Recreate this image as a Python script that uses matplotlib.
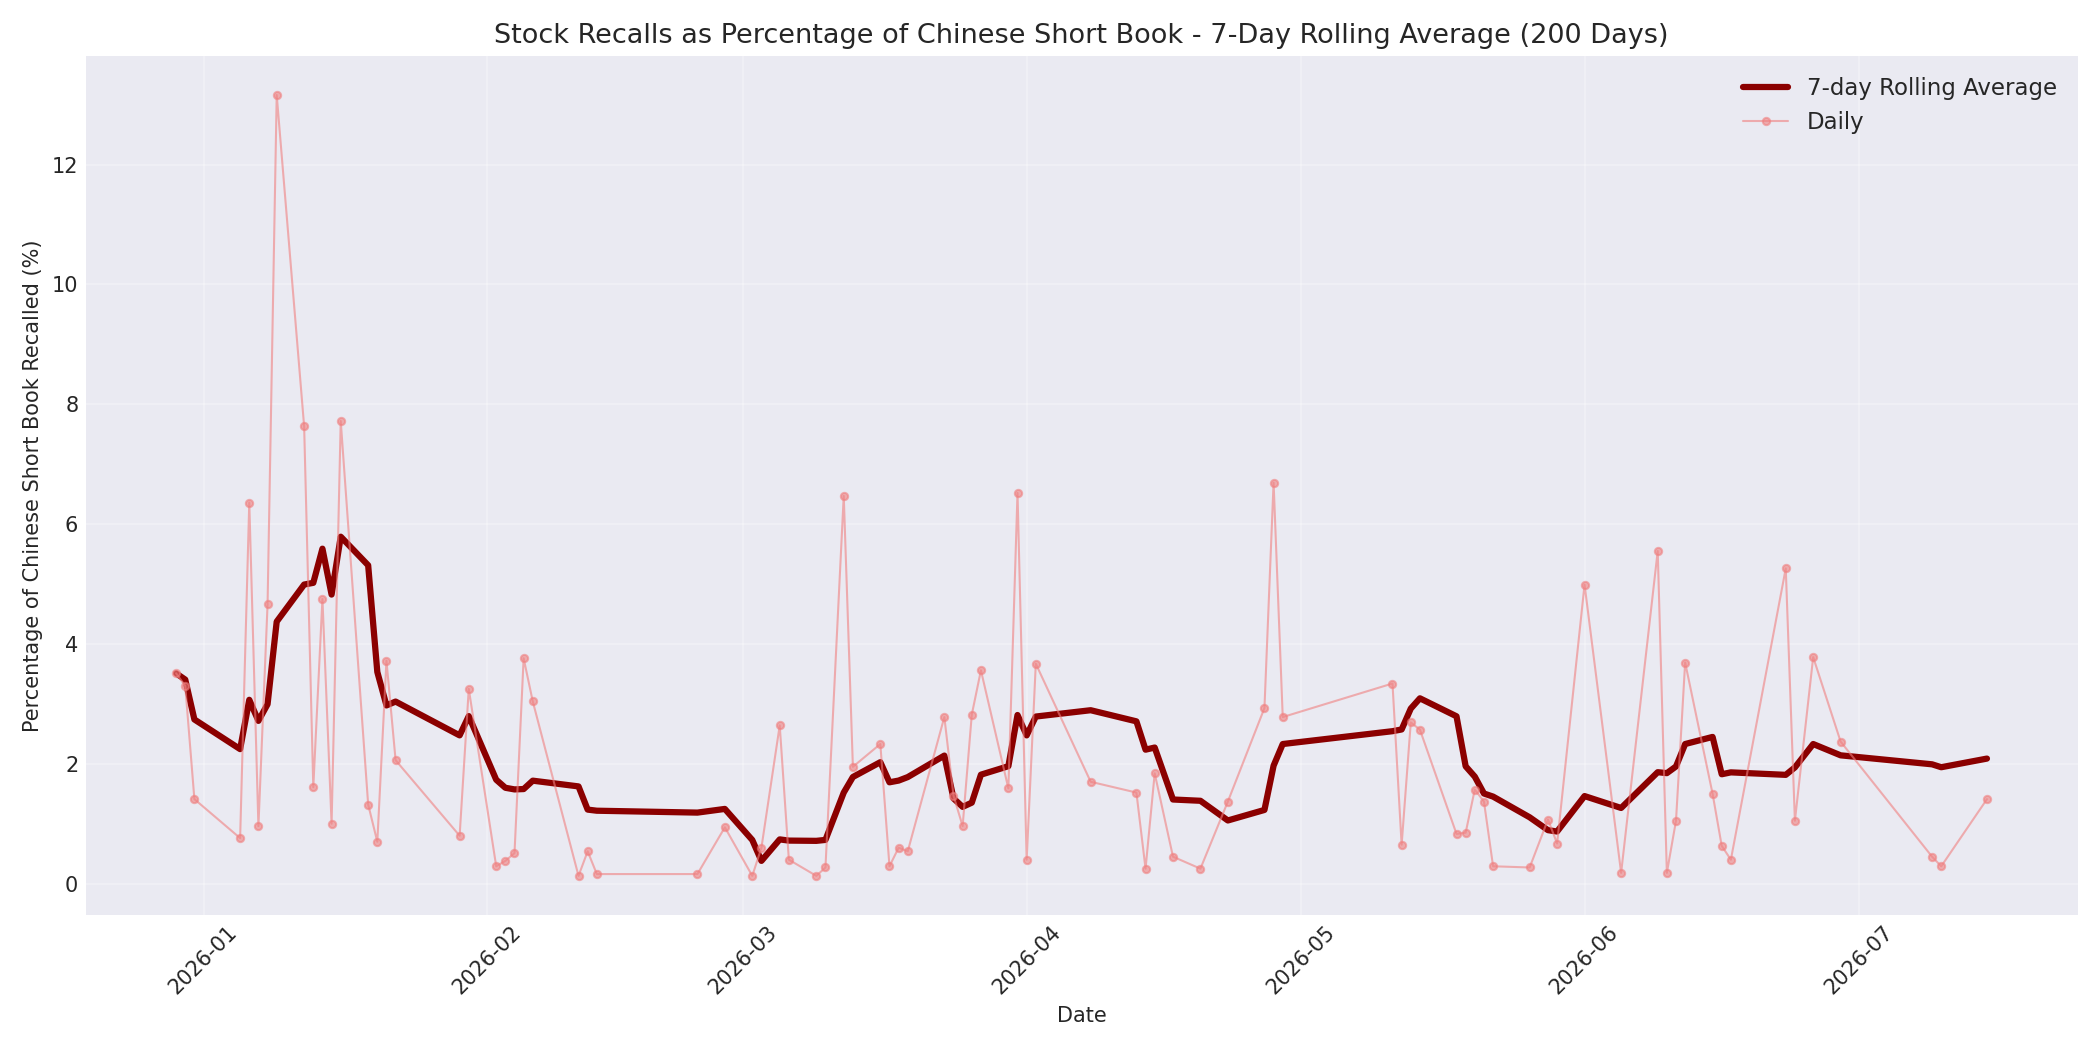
import numpy as np
import pandas as pd
import matplotlib.pyplot as plt
import matplotlib.dates as mdates

# daily recall %
dates = [
    "2025-12-29", "2025-12-30", "2025-12-31", "2026-01-05", "2026-01-06", "2026-01-07",
    "2026-01-08", "2026-01-09", "2026-01-12", "2026-01-13", "2026-01-14", "2026-01-15",
    "2026-01-16", "2026-01-19", "2026-01-20", "2026-01-21", "2026-01-22", "2026-01-29",
    "2026-01-30", "2026-02-02", "2026-02-03", "2026-02-04", "2026-02-05", "2026-02-06",
    "2026-02-11", "2026-02-12", "2026-02-13", "2026-02-24", "2026-02-27", "2026-03-02",
    "2026-03-03",
    "2026-03-05", "2026-03-06", "2026-03-09", "2026-03-10", "2026-03-12", "2026-03-13",
    "2026-03-16", "2026-03-17", "2026-03-18", "2026-03-19", "2026-03-23", "2026-03-24",
    "2026-03-25", "2026-03-26", "2026-03-27", "2026-03-30", "2026-03-31", "2026-04-01",
    "2026-04-02", "2026-04-08", "2026-04-13", "2026-04-14", "2026-04-15", "2026-04-17",
    "2026-04-20", "2026-04-23", "2026-04-27", "2026-04-28", "2026-04-29", "2026-05-11",
    "2026-05-12", "2026-05-13", "2026-05-14", "2026-05-18", "2026-05-19", "2026-05-20",
    "2026-05-21", "2026-05-22", "2026-05-26", "2026-05-28", "2026-05-29", "2026-06-01",
    "2026-06-05", "2026-06-09", "2026-06-10", "2026-06-11", "2026-06-12", "2026-06-15",
    "2026-06-16", "2026-06-17", "2026-06-23", "2026-06-24", "2026-06-26", "2026-06-29",
    "2026-07-09", "2026-07-10", "2026-07-15",
]
daily_pct = [
    3.51, 3.30, 1.41, 0.76, 6.36, 0.96,
    4.66, 13.16, 7.63, 1.61, 4.75, 1.00,
    7.72, 1.32, 0.70, 3.72, 2.06, 0.80,
    3.25, 0.29, 0.38, 0.51, 3.76, 3.04,
    0.13, 0.54, 0.16, 0.16, 0.94, 0.13,
    0.60,
    2.64, 0.40, 0.13, 0.27, 6.47, 1.95,
    2.33, 0.29, 0.60, 0.54, 2.78, 1.47,
    0.96, 2.82, 3.56, 1.59, 6.52, 0.40,
    3.67, 1.70, 1.52, 0.25, 1.84, 0.45,
    0.25, 1.37, 2.93, 6.69, 2.78, 3.34,
    0.65, 2.69, 2.57, 0.83, 0.85, 1.57,
    1.37, 0.29, 0.27, 1.07, 0.67, 4.99,
    0.18, 5.55, 0.18, 1.05, 3.69, 1.50,
    0.63, 0.40, 5.26, 1.05, 3.78, 2.37,
    0.45, 0.29, 1.41,
]

plt.style.use("seaborn-v0_8-darkgrid")
plt.rcParams["font.family"] = ["DejaVu Sans"]

s = pd.Series(daily_pct, index=pd.to_datetime(dates))
rolling = s.rolling(7, min_periods=1).mean()

fig, ax = plt.subplots(figsize=(14, 7))
ax.plot(rolling.index, rolling.values, color="darkred", linewidth=3, label="7-day Rolling Average")
ax.plot(s.index, s.values, color="lightcoral", alpha=0.6, linewidth=1, marker="o", markersize=3.5,
        label="Daily")
ax.set_title("Stock Recalls as Percentage of Chinese Short Book - 7-Day Rolling Average (200 Days)",
             fontsize=13)
ax.set_xlabel("Date")
ax.set_ylabel("Percentage of Chinese Short Book Recalled (%)")
ax.xaxis.set_major_locator(mdates.MonthLocator())
ax.xaxis.set_major_formatter(mdates.DateFormatter("%Y-%m"))
plt.xticks(rotation=45)
ax.legend(fontsize=11)
ax.grid(True, alpha=0.3)
plt.tight_layout()
plt.savefig("out.png", dpi=150)
